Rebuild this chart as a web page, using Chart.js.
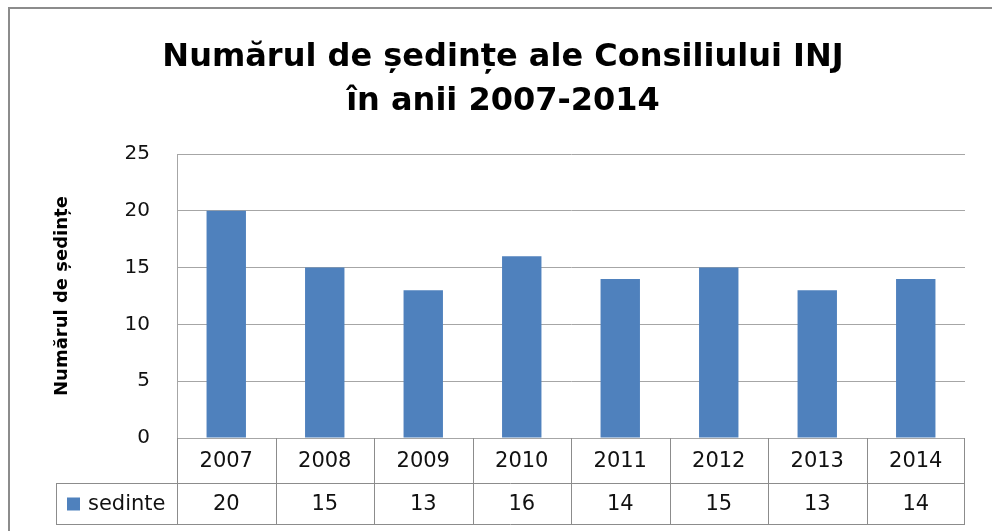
<!DOCTYPE html>
<html>
<head>
<meta charset="utf-8">
<script src="https://cdn.jsdelivr.net/npm/chart.js@4.4.0/dist/chart.umd.min.js"></script>
<style>
body { margin: 0; overflow: hidden; background: #fff; }
canvas { position: absolute; left: 0; top: 0; }
</style>
</head>
<body>
<canvas id="chart" width="992" height="531"></canvas>
<script>
const years = ['2007', '2008', '2009', '2010', '2011', '2012', '2013', '2014'];
const sedinte = [20, 15, 13, 16, 14, 15, 13, 14];
const yTicks = [0, 5, 10, 15, 20, 25];
const seriesName = 'sedinte';
const titleLines = ['Numărul de ședințe ale Consiliului INJ', 'în anii 2007-2014'];
const yTitle = 'Numărul de ședințe';

const barColor = '#4F81BD';
const lineColor = '#8c8c8c';
const font = 'DejaVu Sans';

// outer chart frame: only its top and left edges fall inside the picture
const frame = {
    id: 'frame',
    beforeDraw(chart) {
        const ctx = chart.ctx;
        ctx.save();
        ctx.fillStyle = '#8c8c8c';
        ctx.fillRect(8, 7, 2, chart.height - 7);
        ctx.fillRect(8, 7, chart.width - 8, 2);
        ctx.restore();
    }
};

// data table under the plot, drawn from the x scale
const dataTable = {
    id: 'dataTable',
    afterDraw(chart) {
        const ctx = chart.ctx;
        const x = chart.scales.x;
        const area = chart.chartArea;
        const top = area.bottom;
        const mid = top + 45;
        const bottom = top + 86;
        const half = (x.getPixelForValue(1) - x.getPixelForValue(0)) / 2;
        const legendLeft = 56;

        ctx.save();
        ctx.strokeStyle = lineColor;
        ctx.lineWidth = 1;
        ctx.beginPath();
        ctx.moveTo(legendLeft, mid + 0.5);
        ctx.lineTo(area.right, mid + 0.5);
        ctx.moveTo(legendLeft, bottom + 0.5);
        ctx.lineTo(area.right, bottom + 0.5);
        ctx.moveTo(legendLeft + 0.5, mid);
        ctx.lineTo(legendLeft + 0.5, bottom);
        years.forEach((y, i) => {
            const px = Math.round(x.getPixelForValue(i) - half) + 0.5;
            ctx.moveTo(px, top);
            ctx.lineTo(px, bottom);
        });
        ctx.moveTo(Math.round(area.right) - 0.5, top);
        ctx.lineTo(Math.round(area.right) - 0.5, bottom);
        ctx.stroke();

        ctx.fillStyle = '#111';
        ctx.font = '21px "' + font + '"';
        ctx.textAlign = 'center';
        ctx.textBaseline = 'middle';
        years.forEach((y, i) => {
            const cx = x.getPixelForValue(i);
            ctx.fillText(y, cx, (top + mid) / 2 + 1);
            ctx.fillText(String(sedinte[i]), cx, (mid + bottom) / 2 + 1);
        });

        ctx.fillStyle = barColor;
        ctx.fillRect(67, (mid + bottom) / 2 - 6, 13, 13);
        ctx.fillStyle = '#111';
        ctx.textAlign = 'left';
        ctx.fillText(seriesName, 88, (mid + bottom) / 2 + 1);
        ctx.restore();
    }
};

new Chart(document.getElementById('chart').getContext('2d'), {
    type: 'bar',
    data: {
        labels: years,
        datasets: [{
            label: seriesName,
            data: sedinte,
            backgroundColor: barColor,
            barPercentage: 0.4,
            categoryPercentage: 1
        }]
    },
    options: {
        responsive: false,
        animation: false,
        layout: { padding: { left: 41, right: 27, top: 0, bottom: 0 } },
        plugins: {
            legend: { display: false },
            tooltip: { enabled: false },
            title: {
                display: true,
                text: titleLines,
                color: '#000',
                font: { family: font, size: 32, weight: 'bold', lineHeight: 1.36 },
                padding: { top: 36, bottom: 31 }
            }
        },
        scales: {
            x: {
                grid: { display: false },
                border: { display: false },
                ticks: { display: false },
                afterFit(scale) { scale.height = 93; }
            },
            y: {
                min: 0,
                max: 25,
                afterBuildTicks(scale) { scale.ticks = yTicks.map(v => ({ value: v })); },
                grid: { color: '#a6a6a6', drawTicks: false },
                border: { color: '#a6a6a6' },
                ticks: {
                    padding: 27,
                    color: '#111',
                    font: { family: font, size: 20 }
                },
                title: {
                    display: true,
                    text: yTitle,
                    color: '#000',
                    font: { family: font, size: 18, weight: 'bold' },
                    padding: { top: 11 }
                },
                afterFit(scale) { scale.width = 136; }
            }
        }
    },
    plugins: [frame, dataTable]
});
</script>
</body>
</html>
